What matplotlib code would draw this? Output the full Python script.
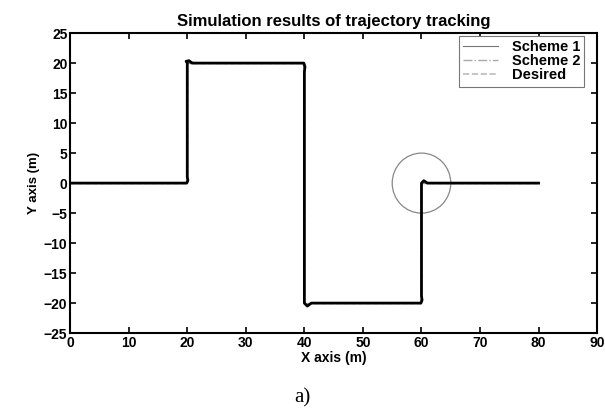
import matplotlib.pyplot as plt
import matplotlib.patches as mpatches

plt.rcParams['font.family'] = ['Liberation Sans', 'DejaVu Sans']

# desired trajectory waypoints
x_des = [0, 20, 20, 40, 40, 60, 60, 80]
y_des = [0, 0, 20, 20, -20, -20, 0, 0]

# scheme 1 (small overshoots at the corners)
x_s1 = [0, 19.9, 20.1, 20.0, 20.0, 19.8, 20.3, 20.8, 39.9, 40.1, 40.0, 40.0, 40.5, 41.2, 59.9, 60.1, 60.0, 60.0, 60.4, 61.0, 80]
y_s1 = [0, 0, 0.5, 1.0, 20.0, 20.3, 20.4, 20.0, 20.0, 19.4, 18.5, -20.0, -20.5, -20.0, -20.0, -19.5, -18.8, 0.0, 0.4, 0.0, 0]

# scheme 2
x_s2 = [0, 19.9, 20.2, 20.0, 20.0, 20.6, 21.2, 39.8, 40.0, 40.0, 40.4, 41.2, 59.8, 60.0, 60.0, 60.5, 61.2, 80]
y_s2 = [0, 0, 0.3, 0.8, 20.0, 20.3, 20.0, 20.0, 19.0, -20.0, -20.3, -20.0, -20.0, -19.2, 0.0, 0.3, 0.0, 0]

circle_center = (60, 0)
circle_radius = 5

fig = plt.figure(figsize=(6.05, 4.19), dpi=100)
ax = fig.add_axes([0.116, 0.205, 0.871, 0.716])

ax.plot(x_des, y_des, linestyle='--', color='#999999', lw=1.0, label='Desired', zorder=2)
ax.plot(x_s2, y_s2, linestyle='-.', color='#888888', lw=1.0, label='Scheme 2', zorder=3)
ax.plot(x_s1, y_s1, linestyle='-', color='black', lw=2.0, label='Scheme 1', zorder=4)
ax.add_patch(mpatches.Ellipse(circle_center, 2 * circle_radius, 2 * circle_radius,
                              fill=False, edgecolor='#888888', lw=0.9))

ax.set_xlim(0, 90)
ax.set_ylim(-25, 25)
ax.set_xticks(range(0, 91, 10))
ax.set_yticks(range(-25, 26, 5))
ax.tick_params(direction='in', top=True, right=True, length=4, width=1.2, labelsize=10, pad=2)
for lab in ax.get_xticklabels() + ax.get_yticklabels():
    lab.set_fontweight('bold')
for s in ax.spines.values():
    s.set_linewidth(1.5)

ax.set_title('Simulation results of trajectory tracking', fontsize=12, fontweight='bold', pad=5)
ax.set_xlabel('X axis (m)', fontsize=10, fontweight='bold', labelpad=1)
ax.set_ylabel('Y axis (m)', fontsize=9.5, fontweight='bold', labelpad=3)

# legend with gray handle lines like the original
h1 = plt.Line2D([], [], color='#777777', lw=0.8, linestyle='-')
h2 = plt.Line2D([], [], color='#aaaaaa', lw=1.0, linestyle='-.')
h3 = plt.Line2D([], [], color='#bbbbbb', lw=1.2, linestyle='--')
leg = ax.legend([h1, h2, h3], ['Scheme 1', 'Scheme 2', 'Desired'], loc='upper right',
                bbox_to_anchor=(0.976, 0.99), borderaxespad=0,
                fancybox=False, prop={'size': 10.5, 'weight': 'bold'},
                edgecolor='#777777', framealpha=1, borderpad=0.3, labelspacing=0.0,
                handlelength=2.4, handletextpad=0.9)
leg.get_frame().set_linewidth(0.8)

fig.text(0.5, 0.04, 'a)', ha='center', fontsize=15, family='Liberation Serif')

plt.savefig('out.png')
